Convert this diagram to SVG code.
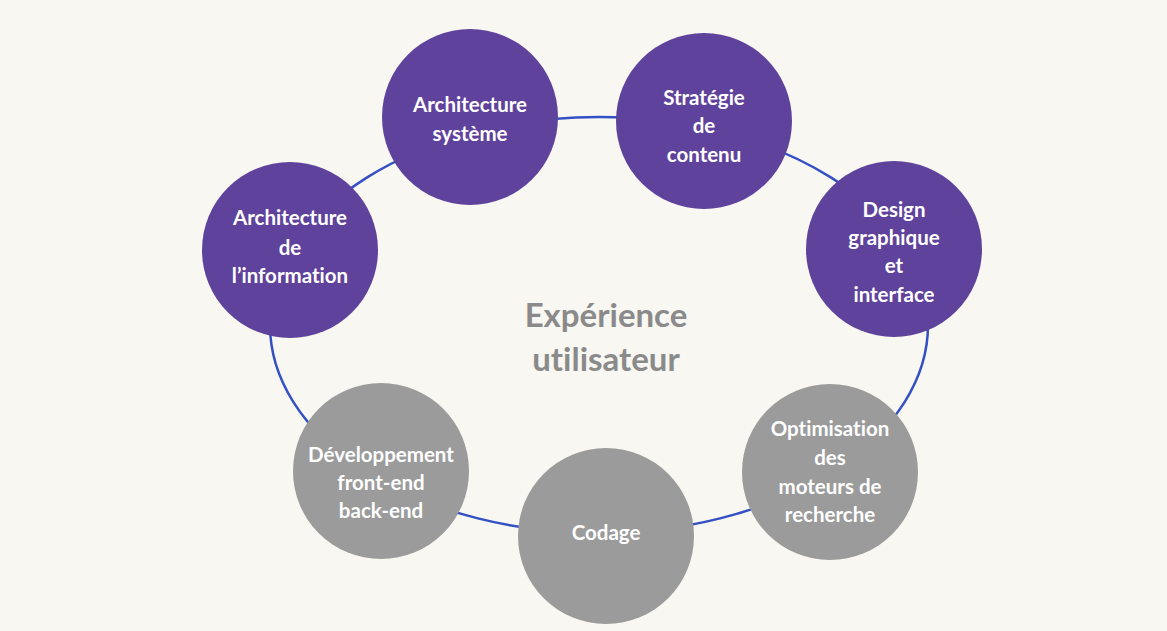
<svg xmlns="http://www.w3.org/2000/svg" width="1167" height="631" viewBox="0 0 1167 631">
<style>
.bg{fill:#f8f7f2}
.ring{fill:none;stroke:#3350c4;stroke-width:2.5}
.p{fill:#5f429b}
.g{fill:#9b9b9b}
.t{font-family:Lato,"Liberation Sans",sans-serif;font-weight:bold;font-size:20.5px;fill:#ffffff;text-anchor:middle;font-variant-ligatures:none}
.c{font-family:Lato,"Liberation Sans",sans-serif;font-weight:bold;font-size:33px;fill:#8a8a8a;text-anchor:middle;font-variant-ligatures:none}
</style>
<rect class="bg" x="0" y="0" width="1167" height="631"/>
<g id="connectors">
<ellipse class="ring" cx="599" cy="325" rx="329" ry="208"/>
</g>
<g id="center">
<text class="c" x="606" y="327">Expérience</text>
<text class="c" x="606" y="371">utilisateur</text>
</g>
<g id="n-arch-sys">
<circle class="p" cx="470" cy="117" r="88"/>
<text class="t" x="470" y="112">Architecture</text>
<text class="t" x="470" y="141">système</text>
</g>
<g id="n-strategie">
<circle class="p" cx="704" cy="121" r="88"/>
<text class="t" x="704" y="105">Stratégie</text>
<text class="t" x="704" y="133">de</text>
<text class="t" x="704" y="162">contenu</text>
</g>
<g id="n-design">
<circle class="p" cx="894" cy="249" r="88"/>
<text class="t" x="894" y="217">Design</text>
<text class="t" x="894" y="245">graphique</text>
<text class="t" x="894" y="273">et</text>
<text class="t" x="894" y="302">interface</text>
</g>
<g id="n-arch-info">
<circle class="p" cx="290" cy="250" r="88"/>
<text class="t" x="290" y="225">Architecture</text>
<text class="t" x="290" y="255">de</text>
<text class="t" x="290" y="283">l’information</text>
</g>
<g id="n-optim">
<circle class="g" cx="830" cy="472" r="88"/>
<text class="t" x="830" y="436">Optimisation</text>
<text class="t" x="830" y="465">des</text>
<text class="t" x="830" y="494">moteurs de</text>
<text class="t" x="830" y="522">recherche</text>
</g>
<g id="n-codage">
<circle class="g" cx="606" cy="536" r="88"/>
<text class="t" x="606" y="540">Codage</text>
</g>
<g id="n-dev">
<circle class="g" cx="381" cy="471" r="88"/>
<text class="t" x="381" y="462">Développement</text>
<text class="t" x="381" y="490">front-end</text>
<text class="t" x="381" y="518">back-end</text>
</g>
</svg>
